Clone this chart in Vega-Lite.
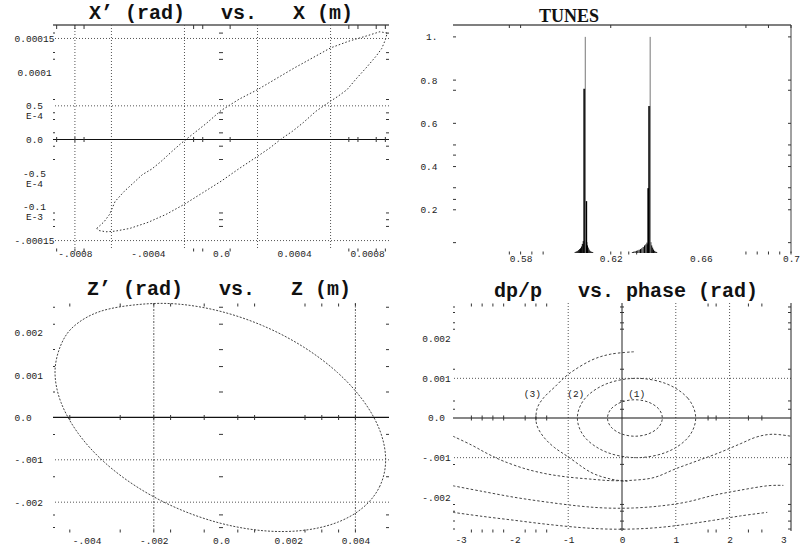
{
  "$schema": "https://vega.github.io/schema/vega-lite/v6.json",
  "background": "white",
  "padding": {"left": 14, "top": 3, "right": 5, "bottom": 5},
  "columns": 2,
  "bounds": "flush",
  "spacing": {"row": 50, "column": 64},
  "config": {
    "view": {"stroke": null},
    "axis": {"labelFont": "Liberation Mono", "labelFontSize": 9.5, "labelColor": "#222", "ticks": false, "tickSize": 0, "domain": false, "grid": false, "labelFlush": false, "labelOverlap": false, "labelBound": false, "labelLineHeight": 10},
    "title": {"font": "Liberation Mono", "fontSize": 20, "fontWeight": "bold", "color": "#111", "anchor": "middle", "frame": "group"},
    "tick": {"opacity": 1, "thickness": 1, "color": "#333"},
    "rule": {"color": "#444"}
  },
  "datasets": {
    "p1_orbit": [
      {"i": 0, "x": -0.00068, "y": -0.000132}, {"i": 1, "x": -0.00064, "y": -0.000122}, {"i": 2, "x": -0.00061, "y": -0.000111},
      {"i": 3, "x": -0.00058, "y": -0.000092}, {"i": 4, "x": -0.00053, "y": -0.000077}, {"i": 5, "x": -0.00047, "y": -0.000062},
      {"i": 6, "x": -0.00043, "y": -0.000052}, {"i": 7, "x": -0.00038, "y": -0.000044}, {"i": 8, "x": -0.00033, "y": -0.000033},
      {"i": 9, "x": -0.00027, "y": -0.000018}, {"i": 10, "x": -0.00022, "y": -0.000006}, {"i": 11, "x": -0.00015, "y": 0.000009},
      {"i": 12, "x": -0.00008, "y": 0.000024}, {"i": 13, "x": 0.0, "y": 0.000043}, {"i": 14, "x": 0.0001, "y": 0.00006},
      {"i": 15, "x": 0.0002, "y": 0.000074}, {"i": 16, "x": 0.0003, "y": 0.00009}, {"i": 17, "x": 0.0004, "y": 0.000106},
      {"i": 18, "x": 0.0005, "y": 0.000121}, {"i": 19, "x": 0.0006, "y": 0.000136}, {"i": 20, "x": 0.0007, "y": 0.000146},
      {"i": 21, "x": 0.0008, "y": 0.000154}, {"i": 22, "x": 0.00087, "y": 0.00016}, {"i": 23, "x": 0.00091, "y": 0.000158},
      {"i": 24, "x": 0.0009, "y": 0.000148}, {"i": 25, "x": 0.00088, "y": 0.000135}, {"i": 26, "x": 0.00085, "y": 0.000124},
      {"i": 27, "x": 0.0008, "y": 0.000108}, {"i": 28, "x": 0.00074, "y": 0.00009}, {"i": 29, "x": 0.00069, "y": 0.000074},
      {"i": 30, "x": 0.00064, "y": 0.000064}, {"i": 31, "x": 0.0006, "y": 0.000057}, {"i": 32, "x": 0.00052, "y": 0.000042},
      {"i": 33, "x": 0.00045, "y": 0.000025}, {"i": 34, "x": 0.00039, "y": 0.000012}, {"i": 35, "x": 0.00033, "y": 0.000001},
      {"i": 36, "x": 0.00027, "y": -0.000012}, {"i": 37, "x": 0.0002, "y": -0.000025}, {"i": 38, "x": 0.0001, "y": -0.000043},
      {"i": 39, "x": 0.0, "y": -0.000062}, {"i": 40, "x": -0.0001, "y": -0.000079}, {"i": 41, "x": -0.0002, "y": -0.000096},
      {"i": 42, "x": -0.0003, "y": -0.000111}, {"i": 43, "x": -0.0004, "y": -0.000123}, {"i": 44, "x": -0.0005, "y": -0.000132},
      {"i": 45, "x": -0.00058, "y": -0.000136}, {"i": 46, "x": -0.00063, "y": -0.000137}, {"i": 47, "x": -0.00067, "y": -0.000135},
      {"i": 48, "x": -0.00068, "y": -0.000132}
    ],
    "p1_vgrid": [{"x": -0.0008}, {"x": -0.0006}, {"x": -0.0002}, {"x": 0.0002}, {"x": 0.0006}],
    "p1_hgrid": [{"y": 0.00015}, {"y": 0.00005}, {"y": -0.00015}],
    "p1_xt": [{"x": -0.0009}, {"x": -0.0008}, {"x": -0.00075}, {"x": -0.00015}, {"x": -0.0001}, {"x": 0.00005}, {"x": 0.0007}, {"x": 0.00075}, {"x": 0.00085}, {"x": 0.0009}],
    "p1_yt": [{"y": 0.000158}, {"y": 0.000129}, {"y": 0.000119}, {"y": 0.0000594}, {"y": 0.0000396}, {"y": 0.0000297}, {"y": 0.0000099}, {"y": -0.0000099}, {"y": -0.0000297}, {"y": -0.000109}, {"y": -0.000119}, {"y": -0.000129}],
    "p2_main": [{"q": 0.6083, "amp": 0.76}, {"q": 0.6091, "amp": 0.24}, {"q": 0.6367, "amp": 0.30}, {"q": 0.6371, "amp": 0.68}],
    "p2_marker": [{"q": 0.6087, "amp": 1.0}, {"q": 0.6375, "amp": 1.0}],
    "p2_base": [
      {"q": 0.6042, "amp": 0.004}, {"q": 0.6046, "amp": 0.006}, {"q": 0.605, "amp": 0.008}, {"q": 0.6054, "amp": 0.01},
      {"q": 0.6058, "amp": 0.014}, {"q": 0.6062, "amp": 0.018}, {"q": 0.6066, "amp": 0.022}, {"q": 0.607, "amp": 0.03},
      {"q": 0.6074, "amp": 0.042}, {"q": 0.6078, "amp": 0.055}, {"q": 0.6081, "amp": 0.04}, {"q": 0.6094, "amp": 0.05},
      {"q": 0.6097, "amp": 0.035}, {"q": 0.61, "amp": 0.025}, {"q": 0.6104, "amp": 0.016}, {"q": 0.6108, "amp": 0.01},
      {"q": 0.6112, "amp": 0.007}, {"q": 0.6116, "amp": 0.005}, {"q": 0.612, "amp": 0.004},
      {"q": 0.6296, "amp": 0.004}, {"q": 0.6302, "amp": 0.006}, {"q": 0.6308, "amp": 0.008}, {"q": 0.6314, "amp": 0.01},
      {"q": 0.632, "amp": 0.012}, {"q": 0.6326, "amp": 0.015}, {"q": 0.6332, "amp": 0.018}, {"q": 0.6338, "amp": 0.022},
      {"q": 0.6344, "amp": 0.028}, {"q": 0.635, "amp": 0.035}, {"q": 0.6356, "amp": 0.04}, {"q": 0.6361, "amp": 0.048},
      {"q": 0.6364, "amp": 0.04}, {"q": 0.6378, "amp": 0.05}, {"q": 0.6382, "amp": 0.035}, {"q": 0.6386, "amp": 0.025},
      {"q": 0.639, "amp": 0.016}, {"q": 0.6395, "amp": 0.01}, {"q": 0.64, "amp": 0.006}, {"q": 0.6404, "amp": 0.004}
    ],
    "p2_xt_top": [{"q": 0.575}, {"q": 0.58}, {"q": 0.62}, {"q": 0.68}, {"q": 0.69}, {"q": 0.7}],
    "p2_xt_bot": [{"q": 0.575}, {"q": 0.58}, {"q": 0.585}, {"q": 0.59}, {"q": 0.62}, {"q": 0.6245}, {"q": 0.628}, {"q": 0.6315}, {"q": 0.68}, {"q": 0.685}, {"q": 0.69}, {"q": 0.695}, {"q": 0.7}],
    "p2_yt": [{"amp": 1.0}, {"amp": 0.8}, {"amp": 0.753}, {"amp": 0.6}, {"amp": 0.5}, {"amp": 0.453}, {"amp": 0.4}, {"amp": 0.302}, {"amp": 0.248}, {"amp": 0.2}, {"amp": 0.048}],
    "p3_orbit": [
      {"i": 0, "x": 0.0049, "y": -0.001}, {"i": 1, "x": 0.004733, "y": -0.001613}, {"i": 2, "x": 0.004243, "y": -0.002116},
      {"i": 3, "x": 0.003465, "y": -0.002475}, {"i": 4, "x": 0.00245, "y": -0.002665}, {"i": 5, "x": 0.001268, "y": -0.002674},
      {"i": 6, "x": 0.0, "y": -0.0025}, {"i": 7, "x": -0.001268, "y": -0.002156}, {"i": 8, "x": -0.00245, "y": -0.001665},
      {"i": 9, "x": -0.003465, "y": -0.001061}, {"i": 10, "x": -0.004243, "y": -0.000384}, {"i": 11, "x": -0.00476, "y": 0.00035},
      {"i": 12, "x": -0.00494, "y": 0.00105}, {"i": 13, "x": -0.00478, "y": 0.00168}, {"i": 14, "x": -0.00438, "y": 0.00215},
      {"i": 15, "x": -0.0036, "y": 0.0025}, {"i": 16, "x": -0.00245, "y": 0.002665}, {"i": 17, "x": -0.001268, "y": 0.002674},
      {"i": 18, "x": 0.0, "y": 0.0025}, {"i": 19, "x": 0.001268, "y": 0.002156}, {"i": 20, "x": 0.00245, "y": 0.001665},
      {"i": 21, "x": 0.003465, "y": 0.001061}, {"i": 22, "x": 0.004243, "y": 0.000384}, {"i": 23, "x": 0.004733, "y": -0.000319}
    ],
    "p3_vgrid": [{"x": -0.002}, {"x": 0.004}],
    "p3_hgrid": [{"y": -0.001}, {"y": -0.002}],
    "p3_xt": [{"x": -0.0045}, {"x": -0.003}, {"x": -0.002}, {"x": -0.0015}, {"x": -0.0005}, {"x": 0.0005}, {"x": 0.001}, {"x": 0.0025}, {"x": 0.003}, {"x": 0.0035}, {"x": 0.004}],
    "p3_yt": [{"y": 0.0026}, {"y": 0.0022}, {"y": 0.0016}, {"y": 0.0012}, {"y": 0.0006}, {"y": -0.0004}, {"y": -0.0014}, {"y": -0.0023}, {"y": -0.0026}],
    "p4_closed": [
      {"curve": "1", "i": 0, "x": 0.75, "y": 0.0}, {"curve": "1", "i": 1, "x": 0.682, "y": 0.00023}, {"curve": "1", "i": 2, "x": 0.495, "y": 0.000398},
      {"curve": "1", "i": 3, "x": 0.24, "y": 0.00046}, {"curve": "1", "i": 4, "x": -0.015, "y": 0.000398}, {"curve": "1", "i": 5, "x": -0.202, "y": 0.00023},
      {"curve": "1", "i": 6, "x": -0.27, "y": 0.0}, {"curve": "1", "i": 7, "x": -0.202, "y": -0.00023}, {"curve": "1", "i": 8, "x": -0.015, "y": -0.000398},
      {"curve": "1", "i": 9, "x": 0.24, "y": -0.00046}, {"curve": "1", "i": 10, "x": 0.495, "y": -0.000398}, {"curve": "1", "i": 11, "x": 0.682, "y": -0.00023},
      {"curve": "2", "i": 0, "x": 1.37, "y": 0.0}, {"curve": "2", "i": 1, "x": 1.223, "y": 0.0005}, {"curve": "2", "i": 2, "x": 0.82, "y": 0.000866},
      {"curve": "2", "i": 3, "x": 0.27, "y": 0.001}, {"curve": "2", "i": 4, "x": -0.28, "y": 0.000866}, {"curve": "2", "i": 5, "x": -0.683, "y": 0.0005},
      {"curve": "2", "i": 6, "x": -0.83, "y": 0.0}, {"curve": "2", "i": 7, "x": -0.683, "y": -0.0005}, {"curve": "2", "i": 8, "x": -0.28, "y": -0.000866},
      {"curve": "2", "i": 9, "x": 0.27, "y": -0.001}, {"curve": "2", "i": 10, "x": 0.82, "y": -0.000866}, {"curve": "2", "i": 11, "x": 1.223, "y": -0.0005}
    ],
    "p4_open": [
      {"curve": "3", "i": 0, "x": 0.22, "y": 0.00167}, {"curve": "3", "i": 1, "x": -0.21, "y": 0.00161}, {"curve": "3", "i": 2, "x": -0.58, "y": 0.00145},
      {"curve": "3", "i": 3, "x": -0.99, "y": 0.00111}, {"curve": "3", "i": 4, "x": -1.26, "y": 0.00077}, {"curve": "3", "i": 5, "x": -1.45, "y": 0.00052},
      {"curve": "3", "i": 6, "x": -1.57, "y": 0.00027}, {"curve": "3", "i": 7, "x": -1.6, "y": 0.0}, {"curve": "3", "i": 8, "x": -1.57, "y": -0.00023},
      {"curve": "3", "i": 9, "x": -1.45, "y": -0.00049}, {"curve": "3", "i": 10, "x": -1.26, "y": -0.00074}, {"curve": "3", "i": 11, "x": -0.99, "y": -0.00099},
      {"curve": "3", "i": 12, "x": -0.58, "y": -0.00137}, {"curve": "3", "i": 13, "x": -0.21, "y": -0.00154}, {"curve": "3", "i": 14, "x": 0.1, "y": -0.0016},
      {"curve": "a", "i": 0, "x": -3.1416, "y": -0.00046}, {"curve": "a", "i": 1, "x": -2.8, "y": -0.00068}, {"curve": "a", "i": 2, "x": -2.5, "y": -0.0009},
      {"curve": "a", "i": 3, "x": -2.2, "y": -0.00109}, {"curve": "a", "i": 4, "x": -1.8, "y": -0.00128}, {"curve": "a", "i": 5, "x": -1.4, "y": -0.00141},
      {"curve": "a", "i": 6, "x": -1.0, "y": -0.00149}, {"curve": "a", "i": 7, "x": -0.6, "y": -0.00154}, {"curve": "a", "i": 8, "x": -0.2, "y": -0.00158},
      {"curve": "a", "i": 9, "x": 0.2, "y": -0.00157}, {"curve": "a", "i": 10, "x": 0.6, "y": -0.0015}, {"curve": "a", "i": 11, "x": 1.0, "y": -0.00128},
      {"curve": "a", "i": 12, "x": 1.4, "y": -0.00108}, {"curve": "a", "i": 13, "x": 1.8, "y": -0.00088}, {"curve": "a", "i": 14, "x": 2.2, "y": -0.00065},
      {"curve": "a", "i": 15, "x": 2.5, "y": -0.00048}, {"curve": "a", "i": 16, "x": 2.8, "y": -0.00041}, {"curve": "a", "i": 17, "x": 3.1416, "y": -0.00046},
      {"curve": "b", "i": 0, "x": -3.1416, "y": -0.00171}, {"curve": "b", "i": 1, "x": -2.6, "y": -0.00185}, {"curve": "b", "i": 2, "x": -2.0, "y": -0.002},
      {"curve": "b", "i": 3, "x": -1.4, "y": -0.00212}, {"curve": "b", "i": 4, "x": -0.8, "y": -0.00222}, {"curve": "b", "i": 5, "x": -0.3, "y": -0.00227},
      {"curve": "b", "i": 6, "x": 0.2, "y": -0.00227}, {"curve": "b", "i": 7, "x": 0.7, "y": -0.00222}, {"curve": "b", "i": 8, "x": 1.2, "y": -0.00212},
      {"curve": "b", "i": 9, "x": 1.7, "y": -0.00195}, {"curve": "b", "i": 10, "x": 2.2, "y": -0.00182}, {"curve": "b", "i": 11, "x": 2.7, "y": -0.00171},
      {"curve": "b", "i": 12, "x": 3.0, "y": -0.0017},
      {"curve": "c", "i": 0, "x": -3.1416, "y": -0.00238}, {"curve": "c", "i": 1, "x": -2.6, "y": -0.00248}, {"curve": "c", "i": 2, "x": -2.0, "y": -0.00258},
      {"curve": "c", "i": 3, "x": -1.4, "y": -0.00268}, {"curve": "c", "i": 4, "x": -0.8, "y": -0.00276}, {"curve": "c", "i": 5, "x": -0.3, "y": -0.0028},
      {"curve": "c", "i": 6, "x": 0.2, "y": -0.0028}, {"curve": "c", "i": 7, "x": 0.7, "y": -0.00276}, {"curve": "c", "i": 8, "x": 1.2, "y": -0.00268},
      {"curve": "c", "i": 9, "x": 1.7, "y": -0.00258}, {"curve": "c", "i": 10, "x": 2.2, "y": -0.00247}, {"curve": "c", "i": 11, "x": 2.7, "y": -0.00238}
    ],
    "p4_lab": [{"x": -1.667, "y": 0.000605, "t": "(3)"}, {"x": -0.86, "y": 0.000605, "t": "(2)"}, {"x": 0.273, "y": 0.00061, "t": "(1)"}],
    "p4_vgrid": [{"x": -1}, {"x": 1}, {"x": 2}],
    "p4_hgrid": [{"y": 0.001}, {"y": -0.001}],
    "p4_xt": [{"x": -2.8}, {"x": -2.6}, {"x": -2.4}, {"x": -2.2}, {"x": -1.8}, {"x": -1.6}, {"x": -1.4}, {"x": 1.6}, {"x": 1.75}, {"x": 2.35}, {"x": 2.6}],
    "p4_yt": [{"y": 0.0028}, {"y": 0.00266}, {"y": 0.0024}, {"y": 0.00224}, {"y": 0.00123}, {"y": 0.00043}, {"y": 0.00022}, {"y": -0.00117}, {"y": -0.00218}, {"y": -0.00235}, {"y": -0.0026}, {"y": -0.0028}]
  },
  "concat": [
    {
      "width": 336, "height": 225,
      "title": {"text": "X’\u00a0(rad)\u00a0\u00a0\u00a0vs.\u00a0\u00a0\u00a0X\u00a0(m)", "offset": 1},
      "resolve": {"axis": {"x": "independent", "y": "independent"}},
      "layer": [
        {"data": {"name": "p1_orbit"}, "mark": {"type": "line", "strokeDash": [1.5, 2], "color": "#333", "strokeWidth": 1},
         "encoding": {
           "x": {"field": "x", "type": "quantitative", "scale": {"domain": [-0.00092, 0.00092], "nice": false, "zero": false},
                 "axis": {"title": null, "values": [-0.0008, -0.0004, 0, 0.0004, 0.0008], "labelExpr": "datum.value < -0.0006 ? '-.0008' : datum.value < -0.0002 ? '-.0004' : datum.value < 0.0002 ? '0.0' : datum.value < 0.0006 ? '0.0004' : '0.0008'", "labelPadding": 3, "labelBaseline": "middle"}},
           "y": {"field": "y", "type": "quantitative", "scale": {"domain": [-0.000164, 0.00017], "nice": false, "zero": false},
                 "axis": {"title": null, "values": [0.00015, 0.0001, 0.00005, 0, -0.00005, -0.0001, -0.00015], "labelExpr": "datum.value > 0.00012 ? '0.00015' : datum.value > 0.00007 ? '0.0001' : datum.value > 0.00002 ? ['0.5', 'E-4'] : datum.value > -0.00002 ? '0.0' : datum.value > -0.00007 ? ['-0.5', 'E-4'] : datum.value > -0.00012 ? ['-0.1', 'E-3'] : '-.00015'", "labelPadding": 19, "labelAlign": "center"}},
           "order": {"field": "i"}
         }},
        {"data": {"name": "p1_vgrid"}, "mark": {"type": "rule", "strokeDash": [1, 2], "color": "#555"}, "encoding": {"x": {"field": "x", "type": "quantitative", "axis": null}}},
        {"data": {"name": "p1_hgrid"}, "mark": {"type": "rule", "strokeDash": [1, 2], "color": "#555"}, "encoding": {"y": {"field": "y", "type": "quantitative", "axis": null}}},
        {"data": {"values": [{"y": 0}]}, "mark": {"type": "rule", "color": "#111", "strokeWidth": 1.2}, "encoding": {"y": {"field": "y", "type": "quantitative", "axis": null}}},
        {"data": {"values": [{"y": 0.00017}]}, "mark": {"type": "rule", "color": "#555", "strokeWidth": 1.5}, "encoding": {"y": {"field": "y", "type": "quantitative", "axis": null}}},
        {"data": {"name": "p1_xt"}, "mark": {"type": "tick", "orient": "vertical", "size": 4, "yOffset": 2}, "encoding": {"x": {"field": "x", "type": "quantitative", "axis": null}, "y": {"datum": 0.00017, "type": "quantitative", "axis": null}}},
        {"data": {"name": "p1_xt"}, "mark": {"type": "tick", "orient": "vertical", "size": 5}, "encoding": {"x": {"field": "x", "type": "quantitative", "axis": null}, "y": {"datum": 0, "type": "quantitative", "axis": null}}},
        {"data": {"name": "p1_xt"}, "mark": {"type": "tick", "orient": "vertical", "size": 3}, "encoding": {"x": {"field": "x", "type": "quantitative", "axis": null}, "y": {"datum": -0.000164, "type": "quantitative", "axis": null}}},
        {"data": {"name": "p1_yt"}, "mark": {"type": "tick", "orient": "horizontal", "size": 2, "xOffset": 1}, "encoding": {"y": {"field": "y", "type": "quantitative", "axis": null}, "x": {"datum": -0.00092, "type": "quantitative", "axis": null}}},
        {"data": {"name": "p1_yt"}, "mark": {"type": "tick", "orient": "horizontal", "size": 3, "xOffset": -1.5}, "encoding": {"y": {"field": "y", "type": "quantitative", "axis": null}, "x": {"datum": 0.00092, "type": "quantitative", "axis": null}}},
        {"data": {"name": "p1_yt"}, "mark": {"type": "tick", "orient": "horizontal", "size": 4}, "encoding": {"y": {"field": "y", "type": "quantitative", "axis": null}, "x": {"datum": 0, "type": "quantitative", "axis": null}}}
      ]
    },
    {
      "width": 338, "height": 228,
      "title": {"text": "TUNES", "font": "Liberation Serif", "fontSize": 18, "anchor": "start", "dx": 86, "offset": -2},
      "resolve": {"axis": {"x": "independent", "y": "independent"}},
      "layer": [
        {"data": {"name": "p2_main"}, "mark": {"type": "rule", "color": "#000", "strokeWidth": 2},
         "encoding": {
           "x": {"field": "q", "type": "quantitative", "scale": {"domain": [0.55, 0.70], "nice": false, "zero": false},
                 "axis": {"title": null, "values": [0.58, 0.62, 0.66, 0.7], "labelExpr": "'' + datum.value", "labelPadding": 5, "labelBaseline": "middle"}},
           "y": {"field": "amp", "type": "quantitative", "scale": {"domain": [0, 1.055], "nice": false, "zero": false},
                 "axis": {"title": null, "values": [0.2, 0.4, 0.6, 0.8, 1], "labelExpr": "datum.value == 1 ? '1.' : '' + datum.value", "labelPadding": 16, "labelAlign": "right"}},
           "y2": {"datum": 0}
         }},
        {"data": {"name": "p2_base"}, "mark": {"type": "rule", "color": "#000", "strokeWidth": 1}, "encoding": {"x": {"field": "q", "type": "quantitative", "axis": null}, "y": {"field": "amp", "type": "quantitative", "axis": null}, "y2": {"datum": 0}}},
        {"data": {"name": "p2_marker"}, "mark": {"type": "rule", "color": "#777", "strokeWidth": 1}, "encoding": {"x": {"field": "q", "type": "quantitative", "axis": null}, "y": {"field": "amp", "type": "quantitative", "axis": null}, "y2": {"datum": 0}}},
        {"data": {"values": [{"amp": 1.055}]}, "mark": {"type": "rule", "color": "#555", "strokeWidth": 1.5}, "encoding": {"y": {"field": "amp", "type": "quantitative", "axis": null}}},
        {"data": {"values": [{"q": 0.7}]}, "mark": {"type": "rule", "color": "#444", "strokeWidth": 1}, "encoding": {"x": {"field": "q", "type": "quantitative", "axis": null}}},
        {"data": {"name": "p2_xt_top"}, "mark": {"type": "tick", "orient": "vertical", "size": 3, "yOffset": 1.5}, "encoding": {"x": {"field": "q", "type": "quantitative", "axis": null}, "y": {"datum": 1.055, "type": "quantitative", "axis": null}}},
        {"data": {"name": "p2_xt_bot"}, "mark": {"type": "tick", "orient": "vertical", "size": 3}, "encoding": {"x": {"field": "q", "type": "quantitative", "axis": null}, "y": {"datum": 0, "type": "quantitative", "axis": null}}},
        {"data": {"name": "p2_yt"}, "mark": {"type": "tick", "orient": "horizontal", "size": 3, "xOffset": 1.5}, "encoding": {"y": {"field": "amp", "type": "quantitative", "axis": null}, "x": {"datum": 0.55, "type": "quantitative", "axis": null}}},
        {"data": {"name": "p2_yt"}, "mark": {"type": "tick", "orient": "horizontal", "size": 3, "xOffset": -1.5}, "encoding": {"y": {"field": "amp", "type": "quantitative", "axis": null}, "x": {"datum": 0.7, "type": "quantitative", "axis": null}}}
      ]
    },
    {
      "width": 336, "height": 228,
      "title": {"text": "Z’\u00a0(rad)\u00a0\u00a0\u00a0vs.\u00a0\u00a0\u00a0Z\u00a0(m)", "offset": 2, "dx": -2},
      "resolve": {"axis": {"x": "independent", "y": "independent"}},
      "layer": [
        {"data": {"name": "p3_orbit"}, "mark": {"type": "line", "strokeDash": [2, 1.5], "color": "#444", "strokeWidth": 1, "interpolate": "cardinal-closed"},
         "encoding": {
           "x": {"field": "x", "type": "quantitative", "scale": {"domain": [-0.005, 0.005], "nice": false, "zero": false},
                 "axis": {"title": null, "values": [-0.004, -0.002, 0, 0.002, 0.004], "labelExpr": "datum.value < -0.003 ? '-.004' : datum.value < -0.001 ? '-.002' : datum.value < 0.001 ? '0.0' : datum.value < 0.003 ? '0.002' : '0.004'", "labelPadding": 9, "labelBaseline": "middle"}},
           "y": {"field": "y", "type": "quantitative", "scale": {"domain": [-0.00268, 0.0027], "nice": false, "zero": false},
                 "axis": {"title": null, "values": [0.002, 0.001, 0, -0.001, -0.002], "labelExpr": "datum.value > 0.0015 ? '0.002' : datum.value > 0.0005 ? '0.001' : datum.value > -0.0005 ? '0.0' : datum.value > -0.0015 ? '-.001' : '-.002'", "labelPadding": 39, "labelAlign": "left"}},
           "order": {"field": "i"}
         }},
        {"data": {"name": "p3_vgrid"}, "mark": {"type": "rule", "strokeDash": [2, 1.5, 1, 1.5], "color": "#555"}, "encoding": {"x": {"field": "x", "type": "quantitative", "axis": null}}},
        {"data": {"name": "p3_hgrid"}, "mark": {"type": "rule", "strokeDash": [1, 2], "color": "#555"}, "encoding": {"y": {"field": "y", "type": "quantitative", "axis": null}}},
        {"data": {"values": [{"y": 0}]}, "mark": {"type": "rule", "color": "#111", "strokeWidth": 1.2}, "encoding": {"y": {"field": "y", "type": "quantitative", "axis": null}}},
        {"data": {"name": "p3_xt"}, "mark": {"type": "tick", "orient": "vertical", "size": 3, "yOffset": 2}, "encoding": {"x": {"field": "x", "type": "quantitative", "axis": null}, "y": {"datum": 0.0027, "type": "quantitative", "axis": null}}},
        {"data": {"name": "p3_xt"}, "mark": {"type": "tick", "orient": "vertical", "size": 5}, "encoding": {"x": {"field": "x", "type": "quantitative", "axis": null}, "y": {"datum": 0, "type": "quantitative", "axis": null}}},
        {"data": {"name": "p3_xt"}, "mark": {"type": "tick", "orient": "vertical", "size": 3}, "encoding": {"x": {"field": "x", "type": "quantitative", "axis": null}, "y": {"datum": -0.00268, "type": "quantitative", "axis": null}}},
        {"data": {"name": "p3_yt"}, "mark": {"type": "tick", "orient": "horizontal", "size": 2, "xOffset": 1}, "encoding": {"y": {"field": "y", "type": "quantitative", "axis": null}, "x": {"datum": -0.005, "type": "quantitative", "axis": null}}},
        {"data": {"name": "p3_yt"}, "mark": {"type": "tick", "orient": "horizontal", "size": 3, "xOffset": -1.5}, "encoding": {"y": {"field": "y", "type": "quantitative", "axis": null}, "x": {"datum": 0.005, "type": "quantitative", "axis": null}}},
        {"data": {"name": "p3_yt"}, "mark": {"type": "tick", "orient": "horizontal", "size": 4}, "encoding": {"y": {"field": "y", "type": "quantitative", "axis": null}, "x": {"datum": 0, "type": "quantitative", "axis": null}}}
      ]
    },
    {
      "width": 338, "height": 228,
      "title": {"text": "dp/p\u00a0\u00a0\u00a0vs.\u00a0phase\u00a0(rad)", "offset": 2, "dx": 4},
      "resolve": {"axis": {"x": "independent", "y": "independent"}},
      "layer": [
        {"data": {"name": "p4_closed"}, "mark": {"type": "line", "strokeDash": [2.5, 2], "color": "#444", "strokeWidth": 1, "interpolate": "cardinal-closed"},
         "encoding": {
           "x": {"field": "x", "type": "quantitative", "scale": {"domain": [-3.1416, 3.1416], "nice": false, "zero": false},
                 "axis": {"title": null, "values": [-3, -2, -1, 0, 1, 2, 3], "labelExpr": "'' + datum.value", "labelPadding": 8, "labelBaseline": "middle"}},
           "y": {"field": "y", "type": "quantitative", "scale": {"domain": [-0.00285, 0.0029], "nice": false, "zero": false},
                 "axis": {"title": null, "values": [0.002, 0.001, 0, -0.001, -0.002], "labelExpr": "datum.value > 0.0015 ? '0.002' : datum.value > 0.0005 ? '0.001' : datum.value > -0.0005 ? '0.0' : datum.value > -0.0015 ? '-.001' : '-.002'", "labelPadding": 17, "labelAlign": "center"}},
           "detail": {"field": "curve"},
           "order": {"field": "i"}
         }},
        {"data": {"name": "p4_open"}, "mark": {"type": "line", "strokeDash": [2.5, 2], "color": "#444", "strokeWidth": 1, "interpolate": "cardinal"},
         "encoding": {"x": {"field": "x", "type": "quantitative", "axis": null}, "y": {"field": "y", "type": "quantitative", "axis": null}, "detail": {"field": "curve"}, "order": {"field": "i"}}},
        {"data": {"name": "p4_vgrid"}, "mark": {"type": "rule", "strokeDash": [1, 2], "color": "#555"}, "encoding": {"x": {"field": "x", "type": "quantitative", "axis": null}}},
        {"data": {"name": "p4_hgrid"}, "mark": {"type": "rule", "strokeDash": [1, 2], "color": "#555"}, "encoding": {"y": {"field": "y", "type": "quantitative", "axis": null}}},
        {"data": {"values": [{"y": 0}]}, "mark": {"type": "rule", "color": "#111", "strokeWidth": 1.2}, "encoding": {"y": {"field": "y", "type": "quantitative", "axis": null}}},
        {"data": {"values": [{"x": 0}, {"x": 3.1416}]}, "mark": {"type": "rule", "color": "#222", "strokeWidth": 1}, "encoding": {"x": {"field": "x", "type": "quantitative", "axis": null}}},
        {"data": {"name": "p4_lab"}, "mark": {"type": "text", "font": "Liberation Mono", "fontSize": 9.5, "color": "#222"}, "encoding": {"x": {"field": "x", "type": "quantitative", "axis": null}, "y": {"field": "y", "type": "quantitative", "axis": null}, "text": {"field": "t"}}},
        {"data": {"name": "p4_xt"}, "mark": {"type": "tick", "orient": "vertical", "size": 3, "yOffset": 2}, "encoding": {"x": {"field": "x", "type": "quantitative", "axis": null}, "y": {"datum": 0.0029, "type": "quantitative", "axis": null}}},
        {"data": {"name": "p4_xt"}, "mark": {"type": "tick", "orient": "vertical", "size": 5}, "encoding": {"x": {"field": "x", "type": "quantitative", "axis": null}, "y": {"datum": 0, "type": "quantitative", "axis": null}}},
        {"data": {"name": "p4_xt"}, "mark": {"type": "tick", "orient": "vertical", "size": 3}, "encoding": {"x": {"field": "x", "type": "quantitative", "axis": null}, "y": {"datum": -0.00285, "type": "quantitative", "axis": null}}},
        {"data": {"name": "p4_yt"}, "mark": {"type": "tick", "orient": "horizontal", "size": 2, "xOffset": 1}, "encoding": {"y": {"field": "y", "type": "quantitative", "axis": null}, "x": {"datum": -3.1416, "type": "quantitative", "axis": null}}},
        {"data": {"name": "p4_yt"}, "mark": {"type": "tick", "orient": "horizontal", "size": 3, "xOffset": -1.5}, "encoding": {"y": {"field": "y", "type": "quantitative", "axis": null}, "x": {"datum": 3.1416, "type": "quantitative", "axis": null}}},
        {"data": {"name": "p4_yt"}, "mark": {"type": "tick", "orient": "horizontal", "size": 4}, "encoding": {"y": {"field": "y", "type": "quantitative", "axis": null}, "x": {"datum": 0, "type": "quantitative", "axis": null}}}
      ]
    }
  ]
}
